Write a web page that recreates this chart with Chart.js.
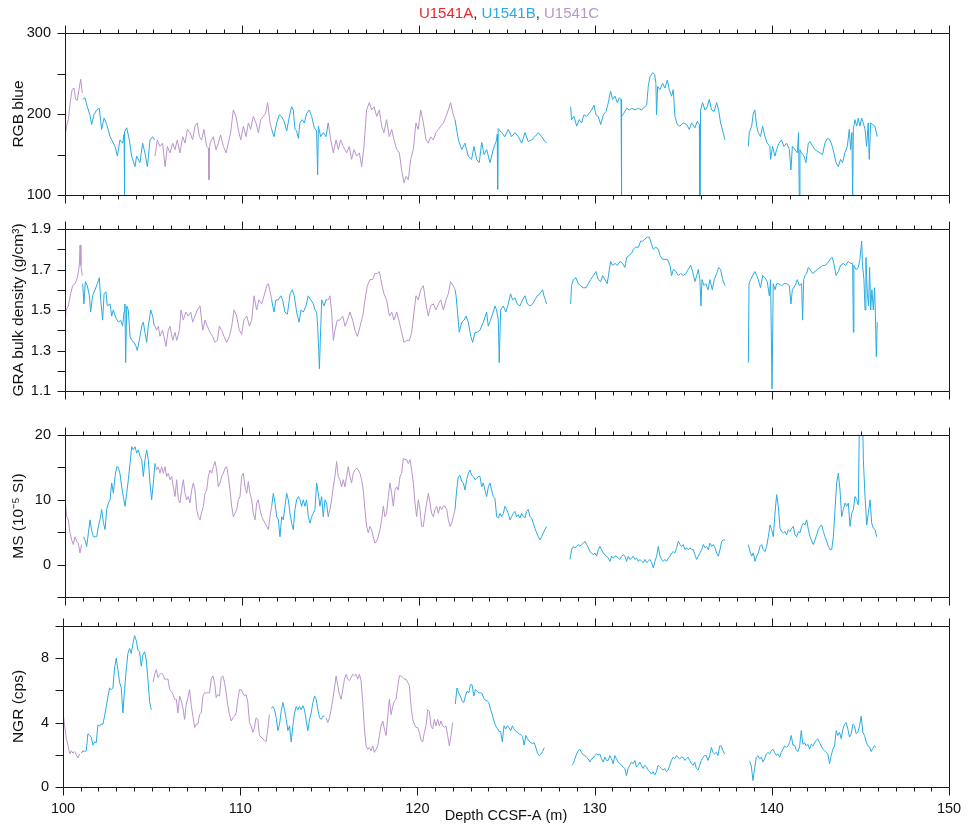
<!DOCTYPE html>
<html>
<head>
<meta charset="utf-8">
<title>U1541 physical properties</title>
<script src="https://cdn.jsdelivr.net/npm/chart.js@4.4.1/dist/chart.umd.min.js"></script>
<style>
  html, body { margin: 0; padding: 0; background: #fff; }
  #wrap { position: relative; width: 968px; height: 831px; }
  #wrap canvas { position: absolute; left: 0; top: 0; }
</style>
</head>
<body>
<div id="wrap">
  <canvas id="rgb" width="968" height="831"></canvas>
  <canvas id="gra" width="968" height="831"></canvas>
  <canvas id="ms" width="968" height="831"></canvas>
  <canvas id="ngr" width="968" height="831"></canvas>
</div>
<script>
'use strict';

const HOLE_COLORS = { A: '#e8262c', B: '#29abe2', C: '#b995cb' };
const DEPTH_MIN = 100, DEPTH_MAX = 150;
const xLabel = 'Depth CCSF-A (m)';

// ---- RGB blue, [depth m, value], one array per core run ----
const rgbB = [
  [[101.00,218],[101.13,220],[101.26,209],[101.41,199],[101.51,187],[101.64,199],[101.79,205],[101.94,207],[102.07,181],[102.21,195],[102.36,187],[102.55,172],[102.64,168],[102.83,160],[102.96,148],[103.11,168],[103.26,164],[103.34,175],[103.36,100],[103.38,178],[103.49,183],[103.64,168],[103.77,148],[103.96,135],[104.05,148],[104.24,140],[104.39,164],[104.52,152],[104.66,135],[104.81,168],[104.96,172],[105.07,168]],
  [[111.69,181],[111.82,172],[111.97,189],[112.12,199],[112.25,197],[112.39,191],[112.54,179],[112.69,197],[112.82,209],[112.91,205],[113.01,181],[113.10,179],[113.20,170],[113.29,189],[113.42,193],[113.54,189],[113.67,201],[113.82,205],[113.95,197],[114.10,183],[114.23,179],[114.29,125],[114.33,185],[114.46,172],[114.61,177],[114.76,172],[114.89,189]],
  [[122.06,193],[122.25,168],[122.44,156],[122.62,164],[122.81,148],[123.00,144],[123.13,160],[123.28,144],[123.43,140],[123.57,165],[123.70,150],[123.85,156],[124.04,140],[124.22,156],[124.41,168],[124.45,175],[124.47,107],[124.50,182],[124.70,177],[124.88,172],[125.07,181],[125.26,172],[125.45,177],[125.64,172],[125.83,164],[126.02,177],[126.20,166],[126.39,168],[126.58,172],[126.77,177],[126.96,172],[127.15,166],[127.24,164]],
  [[128.60,209],[128.65,193],[128.79,197],[128.94,185],[129.09,193],[129.22,189],[129.35,199],[129.50,197],[129.65,201],[129.79,205],[129.92,211],[130.03,199],[130.16,197],[130.30,187],[130.45,199],[130.60,203],[130.73,214],[130.86,228],[130.97,218],[131.11,222],[131.24,214],[131.35,220],[131.45,218],[131.46,100],[131.50,197],[131.61,201],[131.77,207],[131.92,205],[132.07,207],[132.24,205],[132.43,207],[132.61,205],[132.80,209],[132.90,211],[132.99,234],[133.09,246],[133.24,251],[133.35,249],[133.42,238],[133.46,199],[133.52,234],[133.65,230],[133.80,238],[133.93,232],[134.07,242],[134.18,230],[134.31,222],[134.40,230],[134.50,197],[134.63,187],[134.78,185],[134.97,189],[135.16,187],[135.31,181],[135.44,189],[135.63,183],[135.76,191],[135.88,187],[135.91,100],[135.95,205],[136.06,214],[136.20,205],[136.33,209],[136.44,218],[136.57,205],[136.71,203],[136.86,214],[136.97,205],[137.08,189],[137.23,177],[137.33,168]],
  [[138.65,160],[138.70,177],[138.84,185],[138.93,201],[139.02,205],[139.12,185],[139.21,177],[139.34,172],[139.46,185],[139.59,172],[139.72,164],[139.87,160],[139.91,144],[140.02,160],[140.16,148],[140.25,156],[140.38,164],[140.53,168],[140.66,160],[140.82,164],[140.97,156],[141.06,131],[141.14,160],[141.29,156],[141.42,152],[141.49,177],[141.53,100],[141.57,156],[141.66,152],[141.80,148],[141.91,140],[142.04,164],[142.14,166],[142.29,160],[142.42,156],[142.55,154],[142.70,152],[142.85,150],[142.98,164],[143.12,170],[143.27,168],[143.40,160],[143.49,152],[143.61,140],[143.74,135],[143.87,144],[143.98,140],[144.11,152],[144.25,160],[144.36,181],[144.44,156],[144.51,177],[144.55,100],[144.59,181],[144.68,193],[144.78,185],[144.87,195],[144.96,185],[145.06,195],[145.15,189],[145.25,181],[145.34,160],[145.43,189],[145.49,144],[145.57,189],[145.68,187],[145.81,185],[145.94,172]]
];
const rgbC = [
  [[100.00,172],[100.09,185],[100.19,193],[100.30,215],[100.40,230],[100.51,232],[100.60,218],[100.70,217],[100.79,230],[100.89,243],[100.98,226]],
  [[105.09,148],[105.22,168],[105.37,160],[105.52,164],[105.66,135],[105.79,160],[105.94,152],[106.09,164],[106.22,156],[106.35,168],[106.50,152],[106.66,172],[106.79,164],[106.92,181],[107.07,177],[107.22,168],[107.35,185],[107.48,189],[107.60,172],[107.73,168],[107.86,181],[108.01,160],[108.11,158],[108.14,119],[108.17,160],[108.20,164],[108.39,172],[108.54,156],[108.67,164],[108.80,174],[108.96,160],[109.11,152],[109.24,164],[109.37,177],[109.52,205],[109.67,197],[109.80,181],[109.94,168],[110.09,185],[110.24,172],[110.37,189],[110.50,181],[110.65,197],[110.80,189],[110.94,177],[111.07,193],[111.22,197],[111.35,201],[111.46,214],[111.60,189],[111.69,181]],
  [[114.89,189],[115.03,168],[115.18,152],[115.33,168],[115.46,156],[115.59,168],[115.74,160],[115.93,152],[116.08,160],[116.21,144],[116.35,156],[116.50,148],[116.65,152],[116.78,135],[116.91,160],[117.06,205],[117.21,214],[117.35,205],[117.48,209],[117.63,197],[117.78,205],[117.91,185],[118.04,177],[118.19,193],[118.34,172],[118.48,181],[118.61,168],[118.76,156],[118.91,152],[119.04,131],[119.17,115],[119.29,123],[119.42,119],[119.55,144],[119.70,156],[119.85,189],[119.98,181],[120.12,205],[120.27,189],[120.42,168],[120.55,164],[120.68,172],[120.83,168],[120.98,177],[121.12,181],[121.25,185],[121.40,189],[121.55,197],[121.68,205],[121.81,214],[121.96,199],[122.06,193]]
];

// ---- GRA bulk density (g/cm3), [depth m, value] ----
const graB = [
  [[101.00,1.63],[101.07,1.53],[101.15,1.64],[101.26,1.62],[101.38,1.57],[101.45,1.49],[101.56,1.57],[101.70,1.60],[101.83,1.63],[101.94,1.66],[102.02,1.55],[102.13,1.45],[102.21,1.58],[102.32,1.59],[102.39,1.52],[102.55,1.53],[102.64,1.47],[102.73,1.50],[102.88,1.46],[103.02,1.44],[103.15,1.45],[103.26,1.42],[103.34,1.49],[103.39,1.53],[103.43,1.24],[103.49,1.52],[103.58,1.50],[103.68,1.37],[103.77,1.35],[103.90,1.34],[104.02,1.32],[104.09,1.30],[104.20,1.35],[104.34,1.42],[104.43,1.44],[104.52,1.39],[104.62,1.34],[104.71,1.42],[104.85,1.50],[104.96,1.47],[105.05,1.42]],
  [[111.69,1.55],[111.75,1.52],[111.82,1.49],[111.93,1.55],[112.07,1.55],[112.20,1.57],[112.31,1.55],[112.44,1.49],[112.58,1.48],[112.73,1.58],[112.86,1.60],[112.97,1.57],[113.10,1.49],[113.24,1.44],[113.35,1.50],[113.48,1.49],[113.63,1.52],[113.76,1.57],[113.90,1.55],[114.05,1.53],[114.14,1.50],[114.23,1.49],[114.29,1.42],[114.35,1.30],[114.39,1.21],[114.44,1.35],[114.52,1.55],[114.65,1.52],[114.76,1.55],[114.86,1.55]],
  [[122.06,1.60],[122.12,1.57],[122.19,1.50],[122.30,1.39],[122.44,1.44],[122.57,1.45],[122.68,1.47],[122.81,1.44],[122.95,1.37],[123.06,1.34],[123.19,1.39],[123.32,1.39],[123.47,1.40],[123.66,1.44],[123.85,1.49],[123.94,1.42],[124.07,1.45],[124.22,1.49],[124.32,1.52],[124.41,1.50],[124.51,1.45],[124.56,1.24],[124.64,1.50],[124.79,1.52],[124.94,1.49],[125.07,1.53],[125.20,1.58],[125.32,1.55],[125.45,1.56],[125.58,1.53],[125.73,1.52],[125.88,1.55],[126.02,1.57],[126.15,1.53],[126.30,1.52],[126.45,1.53],[126.58,1.55],[126.71,1.57],[126.86,1.58],[127.01,1.60],[127.09,1.57],[127.17,1.55],[127.24,1.53]],
  [[128.60,1.53],[128.65,1.62],[128.75,1.65],[128.90,1.66],[129.03,1.63],[129.16,1.62],[129.31,1.61],[129.47,1.61],[129.60,1.63],[129.73,1.65],[129.88,1.67],[130.03,1.69],[130.16,1.65],[130.30,1.64],[130.41,1.67],[130.54,1.65],[130.67,1.63],[130.79,1.70],[130.86,1.74],[130.97,1.72],[131.11,1.73],[131.24,1.72],[131.39,1.74],[131.54,1.73],[131.67,1.71],[131.77,1.76],[131.92,1.77],[132.05,1.78],[132.14,1.80],[132.27,1.81],[132.43,1.81],[132.56,1.84],[132.67,1.84],[132.80,1.85],[132.93,1.86],[133.05,1.86],[133.16,1.83],[133.27,1.80],[133.42,1.81],[133.56,1.80],[133.65,1.77],[133.80,1.75],[133.93,1.75],[134.07,1.75],[134.22,1.72],[134.31,1.67],[134.41,1.70],[134.56,1.69],[134.69,1.67],[134.82,1.68],[134.97,1.67],[135.12,1.68],[135.25,1.70],[135.39,1.72],[135.50,1.69],[135.63,1.64],[135.73,1.67],[135.82,1.70],[135.91,1.65],[135.97,1.52],[136.03,1.65],[136.14,1.62],[136.25,1.63],[136.37,1.60],[136.48,1.65],[136.61,1.60],[136.72,1.65],[136.86,1.68],[136.97,1.71],[137.08,1.70],[137.20,1.65],[137.33,1.62]],
  [[138.65,1.24],[138.69,1.63],[138.78,1.65],[138.89,1.67],[139.02,1.69],[139.12,1.67],[139.21,1.65],[139.34,1.61],[139.46,1.67],[139.59,1.66],[139.72,1.64],[139.84,1.57],[139.91,1.65],[139.99,1.11],[140.06,1.63],[140.16,1.60],[140.25,1.63],[140.38,1.63],[140.53,1.62],[140.66,1.63],[140.82,1.63],[140.97,1.62],[141.06,1.53],[141.14,1.60],[141.29,1.62],[141.42,1.65],[141.53,1.62],[141.66,1.63],[141.72,1.45],[141.78,1.65],[141.85,1.67],[141.95,1.68],[142.04,1.71],[142.14,1.70],[142.29,1.68],[142.42,1.69],[142.55,1.70],[142.70,1.71],[142.85,1.72],[142.98,1.72],[143.12,1.73],[143.27,1.75],[143.40,1.76],[143.49,1.73],[143.61,1.67],[143.74,1.69],[143.87,1.72],[144.02,1.73],[144.15,1.72],[144.30,1.74],[144.44,1.73],[144.55,1.73],[144.59,1.39],[144.62,1.72],[144.74,1.70],[144.87,1.71],[144.96,1.75],[145.06,1.84],[145.11,1.72],[145.19,1.65],[145.25,1.50],[145.30,1.76],[145.38,1.58],[145.45,1.52],[145.51,1.71],[145.57,1.50],[145.64,1.60],[145.72,1.50],[145.79,1.61],[145.83,1.50],[145.89,1.27],[145.94,1.44]]
];
const graC = [
  [[100.00,1.42],[100.06,1.50],[100.19,1.52],[100.32,1.58],[100.43,1.62],[100.57,1.63],[100.70,1.66],[100.81,1.72],[100.85,1.82],[100.90,1.72],[100.98,1.67]],
  [[105.09,1.42],[105.18,1.40],[105.28,1.42],[105.37,1.37],[105.51,1.40],[105.60,1.37],[105.71,1.32],[105.84,1.40],[105.94,1.42],[106.09,1.35],[106.22,1.39],[106.32,1.35],[106.47,1.40],[106.56,1.50],[106.69,1.45],[106.84,1.49],[106.98,1.47],[107.11,1.49],[107.22,1.44],[107.35,1.47],[107.48,1.50],[107.64,1.52],[107.79,1.40],[107.92,1.45],[108.05,1.42],[108.20,1.39],[108.35,1.37],[108.48,1.34],[108.62,1.35],[108.73,1.42],[108.86,1.40],[108.99,1.37],[109.14,1.34],[109.30,1.37],[109.43,1.42],[109.56,1.50],[109.71,1.47],[109.86,1.40],[109.99,1.38],[110.12,1.45],[110.28,1.47],[110.43,1.42],[110.56,1.45],[110.69,1.57],[110.84,1.50],[110.97,1.55],[111.12,1.53],[111.26,1.57],[111.41,1.62],[111.50,1.63],[111.63,1.58],[111.69,1.55]],
  [[114.89,1.55],[114.99,1.57],[115.08,1.49],[115.18,1.35],[115.27,1.40],[115.40,1.45],[115.55,1.45],[115.71,1.47],[115.84,1.42],[115.97,1.45],[116.12,1.49],[116.27,1.45],[116.40,1.40],[116.54,1.37],[116.69,1.42],[116.84,1.47],[116.97,1.55],[117.10,1.62],[117.25,1.65],[117.40,1.65],[117.53,1.68],[117.67,1.68],[117.78,1.69],[117.91,1.63],[118.04,1.58],[118.19,1.55],[118.35,1.47],[118.48,1.49],[118.61,1.45],[118.76,1.49],[118.91,1.44],[119.04,1.39],[119.17,1.34],[119.33,1.35],[119.48,1.35],[119.61,1.39],[119.74,1.49],[119.85,1.57],[119.98,1.55],[120.12,1.60],[120.27,1.62],[120.42,1.53],[120.55,1.47],[120.68,1.52],[120.83,1.53],[120.98,1.50],[121.12,1.53],[121.25,1.55],[121.40,1.50],[121.55,1.55],[121.68,1.58],[121.81,1.64],[121.96,1.62],[122.06,1.60]]
];

// ---- MS (10^-5 SI), evenly sampled runs: [top depth, bottom depth, values] ----
const msB = [
  [101.04, 105.09, [4.3,3.8,2.8,4.9,6.9,5.2,4.3,4.3,4.3,5.9,7.0,8.5,6.5,5.4,8.5,9.5,10.0,12.6,11.0,13.6,15.1,15.0,14.0,12.0,10.5,9.0,11.0,13.1,15.6,18.2,17.7,18.2,17.2,17.7,16.7,16.2,13.6,16.2,17.7,16.2,12.6,10.0,12.6,15.6]],
  [111.69, 114.89, [9.0,11.0,9.5,7.4,6.9,4.3,7.4,6.9,9.0,11.0,10.0,7.9,6.4,5.4,8.5,10.0,10.5,10.0,9.0,10.0,9.0,10.0,7.4,6.4,7.4,7.9,8.5,12.6,11.0,9.0,10.5,7.4,10.0,9.5,7.4]],
  [122.06, 127.24, [8.5,11.5,13.6,13.8,12.8,12.6,11.5,13.1,14.1,14.6,13.8,13.6,13.1,13.3,13.6,13.6,12.0,12.6,11.5,10.5,12.0,12.6,11.5,10.5,10.2,7.4,7.2,7.9,7.4,7.9,9.0,8.5,7.9,6.9,7.4,7.9,8.2,7.4,7.7,7.2,7.9,7.4,7.2,8.2,8.5,7.4,7.2,6.4,5.6,4.9,4.3,3.8,4.3,4.9,5.4,5.9]],
  [128.56, 137.33, [0.8,2.3,2.8,2.6,2.8,3.1,2.8,3.1,3.3,3.6,3.1,2.6,2.0,1.8,1.5,1.8,1.3,2.3,2.8,2.3,1.8,1.5,1.3,1.0,0.5,1.3,1.0,1.3,1.3,1.0,0.8,1.3,1.5,1.3,0.5,1.3,0.8,1.0,1.3,0.8,1.0,0.5,0.8,0.5,0.3,0.8,0.3,0.5,0.8,0.3,-0.5,0.5,1.3,2.8,1.3,0.8,0.5,0.8,0.5,1.0,1.3,1.8,2.0,1.8,2.6,3.6,3.1,2.8,3.1,2.3,2.6,2.3,2.6,2.3,2.3,1.5,0.8,1.3,1.8,2.3,3.1,2.6,2.8,2.3,3.3,2.8,3.1,2.6,1.8,1.3,2.3,3.6,3.8,3.8]],
  [138.65, 145.91, [3.1,2.0,1.3,1.8,0.5,1.3,1.8,2.8,3.1,2.3,2.0,2.8,4.3,6.1,5.4,4.3,7.9,10.8,9.0,5.6,5.1,4.9,5.1,4.6,5.4,5.1,5.6,5.9,4.6,4.3,5.1,4.9,5.9,6.4,6.1,6.9,5.4,4.3,3.6,3.1,3.8,4.6,5.4,5.9,6.1,5.1,4.3,3.6,2.8,2.3,2.3,4.3,8.5,12.6,14.1,11.5,7.4,8.5,9.5,9.0,9.5,5.9,7.9,8.5,10.5,10.0,9.2,30,30,16.2,10.5,6.1,8.0,10.0,6.4,5.6,5.4,4.3]]
];
const msC = [
  [100.00, 100.94, [10.5,7.4,6.9,4.9,3.8,3.1,4.3,3.6,3.3,1.8,3.1]],
  [105.09, 111.69, [15.6,14.6,15.1,14.1,15.1,14.1,15.1,13.6,14.1,13.1,13.6,12.0,10.5,13.1,10.0,9.5,11.5,13.1,11.0,10.0,10.5,9.5,11.5,12.6,11.5,8.5,7.4,6.9,8.1,9.0,11.0,11.5,13.6,14.6,14.1,15.1,15.9,14.6,12.0,12.6,13.6,14.1,14.9,15.1,13.6,11.5,9.0,7.4,7.9,8.5,10.0,10.5,13.6,14.1,12.0,11.0,12.8,11.0,10.0,7.9,6.9,9.5,10.0,8.5,7.4,6.9,6.4,5.9,5.4,7.4,9.0]],
  [114.89, 122.06, [7.4,8.5,10.0,12.0,13.6,15.9,13.6,13.1,12.0,13.1,12.0,13.6,15.1,13.6,12.6,14.1,14.6,14.9,14.6,14.1,13.1,11.5,8.5,5.9,4.9,5.9,5.4,4.3,3.3,3.6,4.3,5.4,6.9,9.0,7.4,7.9,10.5,12.6,11.0,9.0,11.5,12.0,11.5,13.6,14.1,16.4,16.2,16.2,15.6,16.2,14.6,12.6,9.5,7.4,10.0,8.5,5.9,5.9,7.9,9.5,11.0,9.5,7.9,7.4,8.5,9.0,7.9,9.0,8.5,9.0,9.0,8.5,6.9,5.9,6.4,7.4,8.5]]
];

// ---- NGR (cps), evenly sampled runs ----
const ngrB = [
  [101.03, 104.98, [2.1,2.25,2.2,2.25,3.3,3.2,3.1,2.6,2.8,2.75,3.85,3.8,3.9,3.9,4.4,5.0,5.6,6.15,6.05,6.15,7.4,8.0,7.3,6.5,6.15,4.6,6.05,7.3,8.3,8.6,8.3,8.9,9.4,9.1,8.5,8.4,7.5,8.2,8.4,7.9,6.7,5.3,4.8]],
  [111.75, 114.76, [4.9,5.0,4.8,4.3,3.5,3.9,4.7,5.25,4.8,4.2,3.5,3.8,2.8,3.8,4.6,5.0,4.8,5.0,4.8,5.05,4.8,4.1,3.5,4.2,4.6,5.25,5.65,5.45,4.8,4.3,4.2,4.4,4.4]],
  [122.14, 127.16, [5.15,6.15,5.85,5.65,5.35,5.25,5.65,5.95,5.85,6.35,6.35,5.65,6.05,5.95,5.85,5.85,5.8,5.5,5.4,5.35,5.25,4.8,4.5,4.1,3.8,3.65,3.45,3.45,2.8,3.8,3.6,3.8,3.7,3.5,3.8,3.6,3.45,3.4,3.3,3.25,3.15,2.6,3.2,3.0,2.85,2.75,2.7,2.75,2.45,2.1,1.95,2.05,2.2,2.45]],
  [128.70, 137.34, [1.35,1.45,1.75,2.05,2.25,2.35,2.15,2.0,1.95,1.85,1.75,1.55,1.75,1.8,1.95,2.05,2.0,2.05,1.75,1.55,1.85,1.65,1.65,1.95,1.75,1.45,1.95,1.75,1.55,1.45,1.35,1.25,1.15,0.7,1.15,1.35,1.55,1.45,1.65,1.25,1.35,1.55,1.35,1.15,1.35,1.25,1.05,0.95,0.8,0.95,0.75,0.95,1.35,1.25,1.15,1.05,1.15,0.95,1.05,1.35,1.65,1.85,1.75,1.95,1.85,1.75,1.85,1.85,1.65,1.75,1.85,1.65,1.45,1.35,1.55,1.15,1.05,1.35,1.65,1.85,1.95,1.95,1.65,1.95,2.45,2.15,2.05,2.15,1.95,2.55,2.55,2.25,2.05]],
  [138.75, 145.89, [1.6,1.3,0.4,1.15,1.85,1.95,1.75,1.85,1.55,1.75,2.05,2.15,2.05,2.25,2.35,2.15,1.95,2.05,1.85,2.15,2.35,2.55,2.45,2.55,2.75,3.2,2.6,2.6,2.3,2.2,2.5,3.5,2.65,2.75,2.55,2.65,2.35,2.65,2.55,2.75,2.9,3.0,2.75,2.55,2.35,2.25,2.15,2.05,1.45,1.95,2.35,2.55,3.5,3.2,3.4,3.0,3.6,3.9,4.0,3.6,3.1,3.3,3.9,3.8,3.3,3.4,3.8,4.4,3.4,3.2,2.8,2.55,2.5,2.2,2.4,2.55,2.45]]
];
const ngrC = [
  [100.00, 100.94, [4.6,3.8,3.0,2.6,2.05,2.25,2.1,2.2,2.0,1.8,2.05]],
  [105.08, 111.65, [6.5,7.0,7.3,6.8,7.0,7.05,7.0,6.7,6.7,6.7,6.05,5.95,5.75,5.45,5.45,4.6,5.65,5.35,4.9,4.2,5.15,5.55,6.05,5.05,4.4,3.7,3.9,3.9,4.5,4.6,5.65,5.85,5.85,5.85,5.85,6.7,6.9,6.5,5.55,5.75,5.65,6.8,6.9,6.5,5.85,5.05,4.5,4.1,4.3,4.4,4.6,5.45,6.05,6.05,5.85,5.65,5.75,5.25,4.0,3.8,3.4,3.7,4.3,4.2,3.2,3.1,3.0,2.9,2.8,3.6,4.5]],
  [114.85, 121.99, [4.3,4.0,4.3,4.8,5.45,6.15,6.9,6.3,5.75,5.45,6.05,6.7,7.0,6.7,6.6,6.8,7.0,6.9,7.0,6.7,7.0,6.6,5.25,3.6,2.55,2.35,2.45,2.25,2.55,2.15,2.35,2.55,3.2,3.8,4.1,3.6,3.2,4.4,5.45,4.5,5.0,5.35,5.45,6.25,6.9,6.9,6.8,6.7,6.7,6.5,6.3,5.0,4.2,3.9,3.7,3.7,3.4,2.9,2.8,3.4,3.8,4.8,4.7,3.8,3.6,4.2,3.8,4.2,3.8,4.1,3.8,3.7,3.8,3.2,2.55,3.2,4.0]]
];

// runs of [depth, value] -> chart points, with a null between runs so the line breaks
function pairRuns(runs) {
  const pts = [];
  runs.forEach((run, i) => {
    if (i > 0) pts.push({ x: run[0][0] - 0.005, y: null });
    run.forEach(p => pts.push({ x: p[0], y: p[1] }));
  });
  return pts;
}
function evenRuns(runs) {
  return pairRuns(runs.map(([from, to, vals]) =>
    vals.map((v, i) => [from + (to - from) * i / (vals.length - 1), v])));
}

const FONT = '"Liberation Sans", Arial, Helvetica, sans-serif';
Chart.defaults.font.family = FONT;
Chart.defaults.font.size = 14.5;
Chart.defaults.color = '#111';

// box + outward ticks (1 m minor, 10 m major; every y step)
const framePlugin = {
  id: 'frame',
  afterDraw(chart) {
    const { ctx, chartArea: a } = chart;
    const x = chart.scales.x, y = chart.scales.y;
    const L = Math.round(a.left) + 0.5, R = Math.round(a.right) + 0.5;
    const T = Math.round(a.top) + 0.5, B = Math.round(a.bottom) + 0.5;
    ctx.save();
    ctx.strokeStyle = '#1a1a1a';
    ctx.lineWidth = 1;
    ctx.beginPath();
    ctx.rect(L, T, R - L, B - T);
    for (let d = DEPTH_MIN; d <= DEPTH_MAX; d++) {
      const px = Math.round(x.getPixelForValue(d)) + 0.5;
      const len = d % 10 === 0 ? 8 : 4;
      ctx.moveTo(px, T); ctx.lineTo(px, T - len);
      ctx.moveTo(px, B); ctx.lineTo(px, B + len);
    }
    y.ticks.forEach(t => {
      const py = Math.round(y.getPixelForValue(t.value)) + 0.5;
      ctx.moveTo(L, py); ctx.lineTo(L - 8, py);
    });
    ctx.stroke();
    ctx.restore();
  }
};

// coloured hole names above the first panel
const holeTitle = {
  id: 'holeTitle',
  afterDraw(chart) {
    const ctx = chart.ctx;
    const parts = [['U1541A', HOLE_COLORS.A], [', ', '#222'], ['U1541B', HOLE_COLORS.B], [', ', '#222'], ['U1541C', HOLE_COLORS.C]];
    ctx.save();
    ctx.font = '15px ' + FONT;
    ctx.textBaseline = 'middle';
    const total = parts.reduce((s, p) => s + ctx.measureText(p[0]).width, 0);
    let cx = (chart.chartArea.left + chart.chartArea.right) / 2 - total / 2 + 2;
    parts.forEach(([t, c]) => {
      ctx.fillStyle = c;
      ctx.fillText(t, cx, 14);
      cx += ctx.measureText(t).width;
    });
    ctx.restore();
  }
};

function makePanel(id, o) {
  const showX = !!o.showX;
  const xAxisH = showX ? 42 : 0;
  return new Chart(document.getElementById(id), {
    type: 'line',
    data: {
      datasets: [
        { label: 'U1541B', data: o.b, borderColor: HOLE_COLORS.B },
        { label: 'U1541C', data: o.c, borderColor: HOLE_COLORS.C }
      ]
    },
    options: {
      responsive: false,
      animation: false,
      devicePixelRatio: 1,
      spanGaps: false,
      layout: { padding: { top: o.top, bottom: 831 - o.bottom - xAxisH, left: 0, right: 968 - o.right } },
      elements: { point: { radius: 0 }, line: { borderWidth: 1, tension: 0 } },
      plugins: { legend: { display: false }, tooltip: { enabled: false } },
      scales: {
        x: {
          type: 'linear', min: DEPTH_MIN, max: DEPTH_MAX,
          display: showX,
          grid: { display: false, drawTicks: true, tickLength: 8 },
          border: { display: false },
          ticks: { stepSize: 10, padding: 5, maxRotation: 0, autoSkip: false },
          title: { display: showX, text: xLabel, padding: { top: 0, bottom: 4 } },
          afterFit: s => { s.height = xAxisH; }
        },
        y: {
          min: o.yMin, max: o.yMax,
          grid: { display: false, drawTicks: true, tickLength: 8 },
          border: { display: false },
          ticks: {
            stepSize: o.yStep, padding: 6, autoSkip: false,
            callback: v => o.yLabels.some(l => Math.abs(l - v) < 1e-6) ? v.toFixed(o.dec) : ''
          },
          title: { display: true, text: o.title, font: { size: 15.5 }, padding: { top: 9, bottom: 0 } },
          afterFit: s => { s.width = o.left; }
        }
      }
    },
    plugins: o.extra ? [framePlugin, o.extra] : [framePlugin]
  });
}

makePanel('rgb', {
  b: pairRuns(rgbB), c: pairRuns(rgbC),
  top: 33, bottom: 195, left: 65, right: 949,
  yMin: 100, yMax: 300, yStep: 50, yLabels: [100, 200, 300], dec: 0,
  title: 'RGB blue', extra: holeTitle
});
makePanel('gra', {
  b: pairRuns(graB), c: pairRuns(graC),
  top: 229, bottom: 391, left: 65, right: 949,
  yMin: 1.1, yMax: 1.9, yStep: 0.1, yLabels: [1.1, 1.3, 1.5, 1.7, 1.9], dec: 1,
  title: 'GRA bulk density (g/cm³)'
});
makePanel('ms', {
  b: evenRuns(msB), c: evenRuns(msC),
  top: 435, bottom: 597, left: 65, right: 949,
  yMin: -5, yMax: 20, yStep: 5, yLabels: [0, 10, 20], dec: 0,
  title: 'MS (10⁻⁵ SI)'
});
makePanel('ngr', {
  b: evenRuns(ngrB), c: evenRuns(ngrC),
  top: 626, bottom: 787, left: 63, right: 949,
  yMin: 0, yMax: 10, yStep: 2, yLabels: [0, 4, 8], dec: 0,
  title: 'NGR (cps)', showX: true
});
</script>
</body>
</html>
